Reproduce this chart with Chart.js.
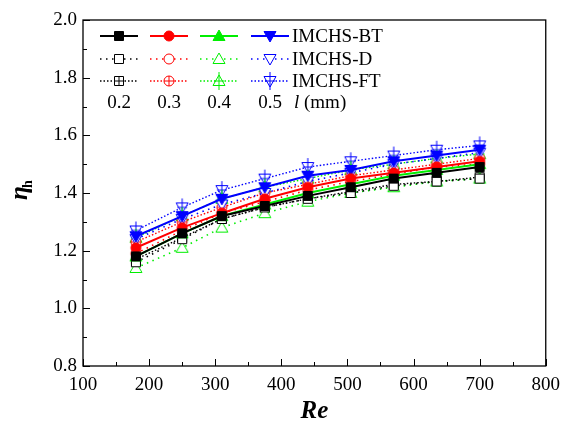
<!DOCTYPE html>
<html>
<head>
<meta charset="utf-8">
<script src="https://cdn.jsdelivr.net/npm/chart.js@4/dist/chart.umd.min.js"></script>
<style>
  html, body { margin: 0; padding: 0; background: #fff; }
  canvas { display: block; }
</style>
</head>
<body>
<canvas id="etaChart" width="568" height="426"></canvas>
<script>
// Re values for every series
const reValues = [180, 250, 310, 375, 440, 505, 570, 635, 700];

// IMCHS-BT (solid, filled markers), l = 0.2 / 0.3 / 0.4 / 0.5 mm
const bt02 = [1.18, 1.26, 1.32, 1.355, 1.39, 1.42, 1.45, 1.47, 1.49];
const bt03 = [1.21, 1.28, 1.33, 1.38, 1.42, 1.45, 1.47, 1.49, 1.51];
const bt04 = [1.18, 1.26, 1.32, 1.36, 1.40, 1.43, 1.46, 1.48, 1.50];
const bt05 = [1.25, 1.32, 1.38, 1.42, 1.46, 1.48, 1.51, 1.53, 1.55];

// IMCHS-D (dotted, open markers)
const d02 = [1.16, 1.24, 1.31, 1.35, 1.38, 1.40, 1.425, 1.44, 1.45];
const d03 = [1.19, 1.27, 1.33, 1.37, 1.41, 1.44, 1.465, 1.49, 1.50];
const d04 = [1.14, 1.21, 1.28, 1.33, 1.37, 1.40, 1.42, 1.44, 1.45];
const d05 = [1.24, 1.31, 1.36, 1.40, 1.44, 1.47, 1.50, 1.52, 1.54];

// IMCHS-FT (dense dotted, crossed markers)
const ft02 = [1.17, 1.245, 1.31, 1.35, 1.38, 1.405, 1.43, 1.44, 1.455];
const ft03 = [1.23, 1.30, 1.35, 1.40, 1.43, 1.46, 1.48, 1.50, 1.52];
const ft04 = [1.245, 1.32, 1.38, 1.42, 1.45, 1.48, 1.50, 1.52, 1.535];
const ft05 = [1.27, 1.35, 1.41, 1.45, 1.49, 1.51, 1.53, 1.55, 1.565];

const lengthLabels = ['0.2', '0.3', '0.4', '0.5'];
const typeLabels = ['IMCHS-BT', 'IMCHS-D', 'IMCHS-FT'];

const colors = ['#000000', '#ff0000', '#00ee00', '#0000ff'];
const shapes = ['square', 'circle', 'triUp', 'triDown'];

// small canvas marker: kind = 'fill' | 'open' | 'cross'
function makeMarker(shape, color, kind) {
    const s = 22, c = s / 2;
    const cv = document.createElement('canvas');
    cv.width = s; cv.height = s;
    const g = cv.getContext('2d');
    g.strokeStyle = color;
    g.fillStyle = color;
    g.lineWidth = 1;
    g.beginPath();
    if (shape === 'square') {
        g.rect(c - 4.5, c - 4.5, 9, 9);
    } else if (shape === 'circle') {
        g.arc(c, c, 5, 0, Math.PI * 2);
    } else if (shape === 'triUp') {
        g.moveTo(c, c - 6); g.lineTo(c + 6, c + 4.5); g.lineTo(c - 6, c + 4.5); g.closePath();
    } else {
        g.moveTo(c, c + 6); g.lineTo(c + 6, c - 4.5); g.lineTo(c - 6, c - 4.5); g.closePath();
    }
    if (kind === 'fill') {
        g.fill();
        g.stroke();
    } else {
        g.fillStyle = '#fff';
        g.fill();
        g.stroke();
    }
    if (kind === 'cross') {
        g.beginPath();
        if (shape === 'square' || shape === 'circle') {
            g.moveTo(c - 5, c); g.lineTo(c + 5, c);
            g.moveTo(c, c - 5); g.lineTo(c, c + 5);
        } else {
            g.moveTo(c - 5, c); g.lineTo(c + 5, c);
            g.moveTo(c, c - 9); g.lineTo(c, c + 9);
        }
        g.stroke();
    }
    return cv;
}

const groups = [
    { rows: [bt02, bt03, bt04, bt05], kind: 'fill', dash: [], width: 2 },
    { rows: [d02, d03, d04, d05], kind: 'open', dash: [1.5, 4.5], width: 1.6 },
    { rows: [ft02, ft03, ft04, ft05], kind: 'cross', dash: [1.5, 2], width: 1.4 }
];

const datasets = [];
groups.forEach((grp, gi) => {
    grp.rows.forEach((vals, ci) => {
        const marker = makeMarker(shapes[ci], colors[ci], grp.kind);
        datasets.push({
            label: typeLabels[gi] + ' ' + lengthLabels[ci],
            data: reValues.map((x, i) => ({ x: x, y: vals[i] })),
            borderColor: colors[ci],
            backgroundColor: colors[ci],
            borderWidth: grp.width,
            borderDash: grp.dash,
            pointStyle: marker,
            pointRadius: 5,
            tension: 0,
            fill: false,
            _row: gi,
            _col: ci,
            _marker: marker
        });
    });
});

// frame box, inward ticks, axis titles and the grid-style legend
const framePlugin = {
    id: 'framePlugin',
    afterDraw(chart) {
        const ctx = chart.ctx;
        const a = chart.chartArea;
        const xs = chart.scales.x, ys = chart.scales.y;
        ctx.save();
        ctx.strokeStyle = '#000';
        ctx.lineWidth = 1.3;
        ctx.setLineDash([]);
        ctx.strokeRect(a.left, a.top, a.right - a.left, a.bottom - a.top);

        ctx.beginPath();
        for (let v = 100; v <= 800; v += 50) {
            const px = Math.round(xs.getPixelForValue(v)) + 0.5;
            const len = v % 100 === 0 ? 7 : 4;
            ctx.moveTo(px, a.bottom); ctx.lineTo(px, a.bottom - len);
        }
        for (let k = 8; k <= 20; k++) {
            const py = Math.round(ys.getPixelForValue(k / 10)) + 0.5;
            const len = k % 2 === 0 ? 7 : 4;
            ctx.moveTo(a.left, py); ctx.lineTo(a.left + len, py);
        }
        ctx.lineWidth = 1;
        ctx.stroke();

        // axis titles
        ctx.fillStyle = '#000';
        ctx.font = 'italic bold 25px "Liberation Serif"';
        ctx.textAlign = 'center';
        ctx.textBaseline = 'alphabetic';
        ctx.fillText('Re', (a.left + a.right) / 2, 418);

        ctx.save();
        ctx.translate(27, 192);
        ctx.rotate(-Math.PI / 2);
        ctx.textAlign = 'left';
        ctx.font = 'italic bold 25px "Liberation Serif"';
        ctx.fillText('\u03b7', -8, 0);
        ctx.font = 'bold 14px "Liberation Serif"';
        ctx.fillText('h', 4, 5);
        ctx.restore();

        // legend
        const colX = [119, 169, 219, 270];
        const rowY = [36, 59, 81];
        chart.data.datasets.forEach(ds => {
            const cx = colX[ds._col], cy = rowY[ds._row];
            ctx.beginPath();
            ctx.strokeStyle = ds.borderColor;
            ctx.lineWidth = ds.borderWidth;
            ctx.setLineDash(ds.borderDash);
            ctx.moveTo(cx - 19, cy); ctx.lineTo(cx + 19, cy);
            ctx.stroke();
            ctx.setLineDash([]);
            const m = ds._marker;
            ctx.drawImage(m, cx - m.width / 2, cy - m.height / 2);
        });
        ctx.fillStyle = '#000';
        ctx.font = '19px "Liberation Serif"';
        ctx.textBaseline = 'middle';
        ctx.textAlign = 'left';
        typeLabels.forEach((t, i) => ctx.fillText(t, 292, rowY[i] + 1));
        ctx.textAlign = 'center';
        lengthLabels.forEach((t, i) => ctx.fillText(t, colX[i], 103));
        ctx.textAlign = 'left';
        ctx.font = 'italic 19px "Liberation Serif"';
        ctx.fillText('l', 294, 103);
        ctx.font = '19px "Liberation Serif"';
        ctx.fillText('(mm)', 304, 103);
        ctx.restore();
    }
};

new Chart(document.getElementById('etaChart').getContext('2d'), {
    type: 'line',
    data: { datasets: datasets },
    options: {
        responsive: false,
        animation: false,
        devicePixelRatio: 1,
        layout: { padding: { left: 0, right: 19, top: 20, bottom: 0 } },
        plugins: {
            legend: { display: false },
            tooltip: { enabled: false }
        },
        scales: {
            x: {
                type: 'linear',
                min: 100,
                max: 800,
                border: { display: false },
                grid: { display: false, drawTicks: false },
                ticks: {
                    stepSize: 100,
                    padding: 8,
                    color: '#000',
                    font: { family: 'Liberation Serif', size: 19 }
                },
                afterFit(scale) { scale.height = 60; }
            },
            y: {
                min: 0.8,
                max: 2.0,
                border: { display: false },
                grid: { display: false, drawTicks: false },
                ticks: {
                    stepSize: 0.2,
                    padding: 6,
                    color: '#000',
                    font: { family: 'Liberation Serif', size: 19 },
                    callback: v => v.toFixed(1)
                },
                afterFit(scale) { scale.width = 83; }
            }
        }
    },
    plugins: [framePlugin]
});
</script>
</body>
</html>
